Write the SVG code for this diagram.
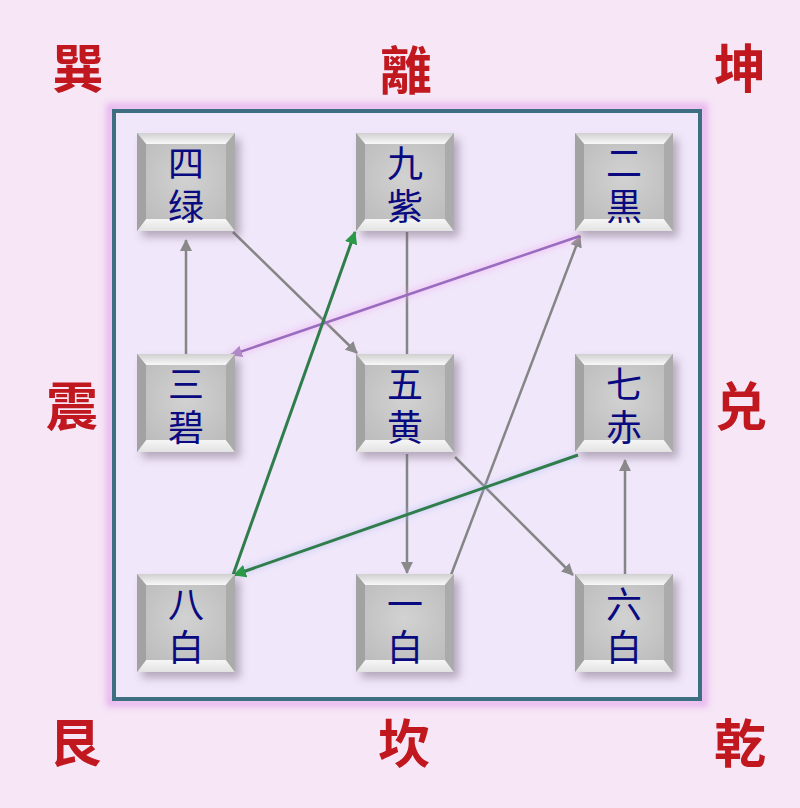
<svg xmlns="http://www.w3.org/2000/svg" xmlns:xlink="http://www.w3.org/1999/xlink" width="800" height="808" viewBox="0 0 800 808">
<style>
.corner{font-family:"Noto Sans CJK SC","Noto Sans CJK JP",sans-serif;font-weight:bold;font-size:52px;fill:#c0181e;text-anchor:middle}
.lbl{font-family:"Liberation Sans","Noto Sans CJK SC","Noto Sans CJK JP",sans-serif;font-size:36px;fill:#0a0a80;text-anchor:middle}
.grey{stroke:#858585;stroke-width:2.5;fill:none}
.green{stroke:#2f7d4a;stroke-width:3;fill:none}
.pink{stroke:#9a6cbf;stroke-width:2.5;fill:none}
</style>
<defs>
<filter id="sh" x="-20%" y="-20%" width="150%" height="150%">
<feDropShadow dx="5" dy="6" stdDeviation="4" flood-color="#6a5a70" flood-opacity="0.45"/>
</filter>
<filter id="glow" x="-10%" y="-10%" width="120%" height="120%">
<feGaussianBlur stdDeviation="3"/>
</filter>
<linearGradient id="topb" x1="0" y1="0" x2="0" y2="1">
<stop offset="0" stop-color="#d0d0d0"/><stop offset="1" stop-color="#f8f8f8"/>
</linearGradient>
<linearGradient id="botb" x1="0" y1="0" x2="0" y2="1">
<stop offset="0" stop-color="#f6f6f6"/><stop offset="1" stop-color="#e2e2e2"/>
</linearGradient>
<radialGradient id="face" cx="0.5" cy="0.45" r="0.7">
<stop offset="0" stop-color="#d2d2d2"/><stop offset="1" stop-color="#bdbdbd"/>
</radialGradient>
<g id="box">
<rect x="0" y="0" width="98" height="98" fill="#b0b0b0"/>
<rect x="9" y="11" width="80" height="75" fill="url(#face)"/>
<polygon points="0,0 98,0 89,11 9,11" fill="url(#topb)"/>
<polygon points="0,98 98,98 89,86 9,86" fill="url(#botb)"/>
<polygon points="0,0 9,11 9,86 0,98" fill="#a2a2a2"/>
<polygon points="98,0 89,11 89,86 98,98" fill="#ababab"/>
</g>
<marker id="ag" viewBox="0 0 12 12" refX="11" refY="6" markerWidth="12" markerHeight="12" markerUnits="userSpaceOnUse" orient="auto">
<path d="M0,0 L12,6 L0,12 z" fill="#8a8a8a"/>
</marker>
<marker id="agr" viewBox="0 0 12 12" refX="11" refY="6" markerWidth="13" markerHeight="13" markerUnits="userSpaceOnUse" orient="auto">
<path d="M0,0 L12,6 L0,12 z" fill="#2a9a48"/>
</marker>
<marker id="ap" viewBox="0 0 12 12" refX="11" refY="6" markerWidth="12" markerHeight="12" markerUnits="userSpaceOnUse" orient="auto">
<path d="M0,0 L12,6 L0,12 z" fill="#b08ac8"/>
</marker>
</defs>
<rect width="800" height="808" fill="#f6e6f6"/>
<rect x="110" y="107" width="594" height="596" fill="none" stroke="#e8b8ee" stroke-width="8" filter="url(#glow)"/>
<rect x="114" y="111" width="586" height="588" fill="#f0e7fa" stroke="#3d6e82" stroke-width="4"/>

<g id="corners">
<text class="corner" x="78" y="88">巽</text>
<text class="corner" x="406" y="90">離</text>
<text class="corner" x="740" y="88">坤</text>
<text class="corner" x="72" y="426">震</text>
<text class="corner" x="741" y="426">兑</text>
<text class="corner" x="75" y="762">艮</text>
<text class="corner" x="404" y="763">坎</text>
<text class="corner" x="740" y="763">乾</text>
</g>

<g id="connectors">
<line class="grey" x1="407" y1="232" x2="407" y2="354"/>
<line class="grey" x1="186" y1="354" x2="186" y2="240" marker-end="url(#ag)"/>
<line class="grey" x1="233" y1="232" x2="357" y2="353" marker-end="url(#ag)"/>
<line class="grey" x1="407" y1="454" x2="407" y2="573" marker-end="url(#ag)"/>
<line class="grey" x1="455" y1="457" x2="573" y2="575" marker-end="url(#ag)"/>
<line class="grey" x1="451" y1="575" x2="580" y2="236" marker-end="url(#ag)"/>
<line class="grey" x1="625" y1="574" x2="625" y2="460" marker-end="url(#ag)"/>
<line x1="580" y1="236" x2="230" y2="355" stroke="#f0a8f0" stroke-width="6" opacity="0.5" filter="url(#glow)"/>
<line class="pink" x1="580" y1="236" x2="231" y2="355" marker-end="url(#ap)"/>
<line x1="578" y1="455" x2="233" y2="575" stroke="#a8b8f0" stroke-width="5" opacity="0.5" filter="url(#glow)"/>
<line class="green" x1="578" y1="455" x2="234" y2="575" marker-end="url(#agr)"/>
<line class="green" x1="233" y1="575" x2="355" y2="232" marker-end="url(#agr)"/>
</g>

<g id="n4"><use xlink:href="#box" href="#box" x="137" y="133" filter="url(#sh)"/><text class="lbl" x="186" y="177">四</text><text class="lbl" x="186" y="220">绿</text></g>
<g id="n9"><use xlink:href="#box" href="#box" x="356" y="133" filter="url(#sh)"/><text class="lbl" x="405" y="177">九</text><text class="lbl" x="405" y="220">紫</text></g>
<g id="n2"><use xlink:href="#box" href="#box" x="575" y="133" filter="url(#sh)"/><text class="lbl" x="624" y="177">二</text><text class="lbl" x="624" y="220">黒</text></g>
<g id="n3"><use xlink:href="#box" href="#box" x="137" y="354" filter="url(#sh)"/><text class="lbl" x="186" y="398">三</text><text class="lbl" x="186" y="441">碧</text></g>
<g id="n5"><use xlink:href="#box" href="#box" x="356" y="354" filter="url(#sh)"/><text class="lbl" x="405" y="398">五</text><text class="lbl" x="405" y="441">黄</text></g>
<g id="n7"><use xlink:href="#box" href="#box" x="575" y="354" filter="url(#sh)"/><text class="lbl" x="624" y="398">七</text><text class="lbl" x="624" y="441">赤</text></g>
<g id="n8"><use xlink:href="#box" href="#box" x="137" y="574" filter="url(#sh)"/><text class="lbl" x="186" y="618">八</text><text class="lbl" x="186" y="661">白</text></g>
<g id="n1"><use xlink:href="#box" href="#box" x="356" y="574" filter="url(#sh)"/><text class="lbl" x="405" y="618">一</text><text class="lbl" x="405" y="661">白</text></g>
<g id="n6"><use xlink:href="#box" href="#box" x="575" y="574" filter="url(#sh)"/><text class="lbl" x="624" y="618">六</text><text class="lbl" x="624" y="661">白</text></g>
</svg>
